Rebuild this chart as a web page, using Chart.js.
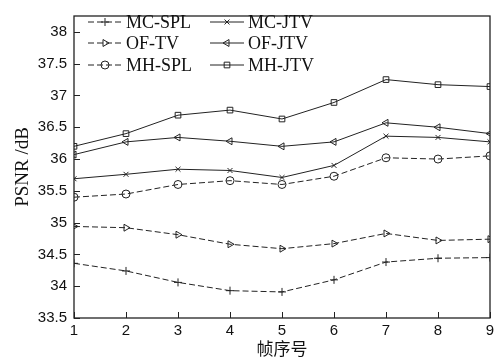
<!DOCTYPE html>
<html>
<head>
<meta charset="utf-8">
<script src="https://cdn.jsdelivr.net/npm/chart.js@4"></script>
<style>
  html, body { margin: 0; padding: 0; background: #fff; }
  #wrap { width: 504px; height: 359px; }
</style>
</head>
<body>
<div id="wrap"><canvas id="psnrChart" width="504" height="359"></canvas></div>
<script>
// frame numbers and y ticks
const frames = [1, 2, 3, 4, 5, 6, 7, 8, 9];
const yTicks = [33.5, 34, 34.5, 35, 35.5, 36, 36.5, 37, 37.5, 38];

// PSNR values
const mcSpl = [34.36, 34.24, 34.06, 33.93, 33.91, 34.10, 34.38, 34.44, 34.45];
const mcJtv = [35.69, 35.76, 35.84, 35.82, 35.71, 35.90, 36.36, 36.34, 36.27];
const ofTv = [34.94, 34.92, 34.81, 34.66, 34.59, 34.67, 34.83, 34.72, 34.74];
const ofJtv = [36.07, 36.27, 36.34, 36.28, 36.20, 36.27, 36.57, 36.50, 36.40];
const mhSpl = [35.40, 35.45, 35.60, 35.66, 35.60, 35.73, 36.02, 36.00, 36.05];
const mhJtv = [36.20, 36.40, 36.69, 36.77, 36.63, 36.89, 37.25, 37.17, 37.14];

const DASH = [6, 3];

function makeSet(label, values, style, rotation, dashed) {
  return {
    label: label,
    data: frames.map((f, i) => ({ x: f, y: values[i] })),
    borderColor: "#222",
    borderWidth: 1,
    borderDash: dashed ? DASH : [],
    pointStyle: style,
    pointRotation: rotation,
    pointRadius: style === "crossRot" ? 3.5 : 4,
    pointBorderColor: "#222",
    pointBackgroundColor: "rgba(0,0,0,0)",
    pointBorderWidth: 1,
    fill: false,
    tension: 0,
  };
}

const datasets = [
  makeSet("MC-SPL", mcSpl, "cross", 0, true),
  makeSet("MC-JTV", mcJtv, "crossRot", 0, false),
  makeSet("OF-TV", ofTv, "triangle", 90, true),
  makeSet("OF-JTV", ofJtv, "triangle", -90, false),
  makeSet("MH-SPL", mhSpl, "circle", 0, true),
  makeSet("MH-JTV", mhJtv, "rect", 0, false),
];

// frame box + inward ticks + legend inside plot
const framePlugin = {
  id: "framePlugin",
  afterDraw(chart) {
    const ctx = chart.ctx;
    const a = chart.chartArea;
    const xs = chart.scales.x;
    const ys = chart.scales.y;
    ctx.save();
    ctx.strokeStyle = "#222";
    ctx.lineWidth = 1.3;
    ctx.strokeRect(a.left, a.top, a.right - a.left, a.bottom - a.top);
    ctx.lineWidth = 1;
    ctx.beginPath();
    frames.forEach((f) => {
      const px = Math.round(xs.getPixelForValue(f)) + 0.5;
      ctx.moveTo(px, a.bottom);
      ctx.lineTo(px, a.bottom - 6);
    });
    yTicks.forEach((v) => {
      const py = Math.round(ys.getPixelForValue(v)) + 0.5;
      ctx.moveTo(a.left, py);
      ctx.lineTo(a.left + 6, py);
    });
    ctx.stroke();

    // legend, two columns
    const cols = [88, 210];
    const rows = [22, 43, 65];
    ctx.font = "18px 'Liberation Serif', 'DejaVu Serif', serif";
    ctx.textBaseline = "middle";
    chart.data.datasets.forEach((ds, i) => {
      const x0 = cols[i % 2];
      const y0 = rows[Math.floor(i / 2)];
      ctx.strokeStyle = "#222";
      ctx.lineWidth = 1;
      ctx.setLineDash(ds.borderDash);
      ctx.beginPath();
      ctx.moveTo(x0, y0);
      ctx.lineTo(x0 + 34, y0);
      ctx.stroke();
      ctx.setLineDash([]);
      ctx.fillStyle = "rgba(0,0,0,0)";
      Chart.helpers.drawPoint(ctx, {
        pointStyle: ds.pointStyle,
        radius: ds.pointRadius,
        rotation: ds.pointRotation,
        borderWidth: 1,
      }, x0 + 17, y0);
      ctx.fillStyle = "#111";
      ctx.fillText(ds.label, x0 + 38, y0 + 1);
    });
    ctx.restore();
  },
};

const chartCtx = document.getElementById("psnrChart").getContext("2d");

new Chart(chartCtx, {
  type: "line",
  data: { datasets: datasets },
  options: {
    responsive: false,
    animation: false,
    layout: { padding: { left: 0, right: 14, top: 15, bottom: 0 } },
    plugins: {
      legend: { display: false },
      tooltip: { enabled: false },
    },
    scales: {
      x: {
        type: "linear",
        min: 1,
        max: 9,
        grid: { display: false, drawTicks: false },
        border: { display: false },
        afterBuildTicks: (scale) => {
          scale.ticks = frames.map((v) => ({ value: v }));
        },
        afterFit: (scale) => {
          scale.height = 41;
        },
        ticks: {
          color: "#111",
          padding: 4,
          maxRotation: 0,
          font: { family: "'Liberation Sans', Arial, sans-serif", size: 15 },
          callback: (v) => String(v),
        },
        title: {
          display: true,
          text: "帧序号",
          color: "#111",
          padding: { top: 0, bottom: 0 },
          font: { family: "'Noto Sans CJK SC', sans-serif", size: 17 },
        },
      },
      y: {
        min: 33.5,
        max: 38.25,
        grid: { display: false, drawTicks: false },
        border: { display: false },
        afterBuildTicks: (scale) => {
          scale.ticks = yTicks.map((v) => ({ value: v }));
        },
        afterFit: (scale) => {
          scale.width = 74;
        },
        ticks: {
          color: "#111",
          padding: 7,
          font: { family: "'Liberation Sans', Arial, sans-serif", size: 15 },
          callback: (v) => String(v),
        },
        title: {
          display: true,
          text: "PSNR /dB",
          color: "#111",
          padding: { top: 12, bottom: 0 },
          font: { family: "'Liberation Serif', 'DejaVu Serif', serif", size: 19 },
        },
      },
    },
  },
  plugins: [framePlugin],
});
</script>
</body>
</html>
